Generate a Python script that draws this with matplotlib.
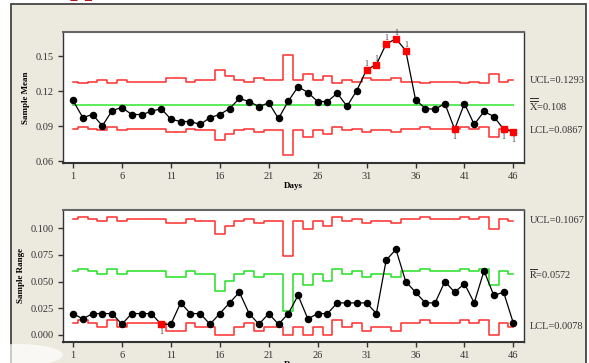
import numpy as np
import matplotlib.pyplot as plt
from matplotlib.patches import Rectangle, Ellipse
from matplotlib.transforms import blended_transform_factory

plt.rcParams['font.family'] = ['Liberation Serif', 'DejaVu Serif']
plt.rcParams['mathtext.fontset'] = 'stix'

# ******** data ********
days = np.arange(1, 47)

sampleMean = [0.1120, 0.0974, 0.1000, 0.0903, 0.1034, 0.1060, 0.1000, 0.1000, 0.1026, 0.1051,
              0.0960, 0.0940, 0.0940, 0.0915, 0.0974, 0.1000, 0.1051, 0.1137, 0.1111, 0.1068,
              0.1100, 0.0966, 0.1114, 0.1238, 0.1188, 0.1111, 0.1111, 0.1182, 0.1071, 0.1205,
              0.1384, 0.1427, 0.1604, 0.1647, 0.1547, 0.1128, 0.1051, 0.1045, 0.1094, 0.0874,
              0.1094, 0.0915, 0.1026, 0.0983, 0.0875, 0.0851]

meanUCL = [0.1281, 0.1271, 0.1281, 0.1293, 0.1271, 0.1293, 0.1281, 0.1281, 0.1281, 0.1281,
           0.1308, 0.1308, 0.1281, 0.1293, 0.1293, 0.1382, 0.1326, 0.1293, 0.1281, 0.1308,
           0.1293, 0.1293, 0.1506, 0.1293, 0.1350, 0.1293, 0.1326, 0.1271, 0.1293, 0.1281,
           0.1308, 0.1293, 0.1293, 0.1308, 0.1281, 0.1281, 0.1271, 0.1281, 0.1281, 0.1281,
           0.1271, 0.1281, 0.1271, 0.1350, 0.1281, 0.1293]

meanLCL = [0.0879, 0.0889, 0.0879, 0.0867, 0.0889, 0.0867, 0.0879, 0.0879, 0.0879, 0.0879,
           0.0852, 0.0852, 0.0879, 0.0867, 0.0867, 0.0778, 0.0834, 0.0867, 0.0879, 0.0852,
           0.0867, 0.0867, 0.0654, 0.0867, 0.0810, 0.0867, 0.0834, 0.0889, 0.0867, 0.0879,
           0.0852, 0.0867, 0.0867, 0.0852, 0.0879, 0.0879, 0.0889, 0.0879, 0.0879, 0.0879,
           0.0889, 0.0879, 0.0889, 0.0810, 0.0879, 0.0867]

meanCenter = 0.108

sampleRange = [0.020, 0.015, 0.020, 0.020, 0.020, 0.010, 0.020, 0.020, 0.020, 0.010,
               0.010, 0.030, 0.020, 0.020, 0.010, 0.020, 0.030, 0.040, 0.020, 0.010,
               0.020, 0.010, 0.020, 0.037, 0.015, 0.020, 0.020, 0.030, 0.030, 0.030,
               0.030, 0.020, 0.070, 0.080, 0.050, 0.040, 0.030, 0.030, 0.050, 0.040,
               0.048, 0.030, 0.060, 0.037, 0.040, 0.011]

rangeUCL = [0.1084, 0.1099, 0.1084, 0.1067, 0.1099, 0.1067, 0.1084, 0.1084, 0.1084, 0.1084,
            0.1045, 0.1045, 0.1084, 0.1067, 0.1067, 0.0944, 0.1020, 0.1067, 0.1084, 0.1045,
            0.1067, 0.1067, 0.0741, 0.1067, 0.0988, 0.1067, 0.1020, 0.1099, 0.1067, 0.1084,
            0.1045, 0.1067, 0.1067, 0.1045, 0.1084, 0.1084, 0.1099, 0.1084, 0.1084, 0.1084,
            0.1099, 0.1084, 0.1099, 0.0988, 0.1084, 0.1067]

rangeCenter = [0.0597, 0.0618, 0.0597, 0.0572, 0.0618, 0.0572, 0.0597, 0.0597, 0.0597, 0.0597,
               0.0543, 0.0543, 0.0597, 0.0572, 0.0572, 0.0414, 0.0509, 0.0572, 0.0597, 0.0543,
               0.0572, 0.0572, 0.0227, 0.0572, 0.0467, 0.0572, 0.0509, 0.0618, 0.0572, 0.0597,
               0.0543, 0.0572, 0.0572, 0.0543, 0.0597, 0.0597, 0.0618, 0.0597, 0.0597, 0.0597,
               0.0618, 0.0597, 0.0618, 0.0467, 0.0597, 0.0572]

rangeLCL = [0.0110, 0.0138, 0.0110, 0.0078, 0.0138, 0.0078, 0.0110, 0.0110, 0.0110, 0.0110,
            0.0041, 0.0041, 0.0110, 0.0078, 0.0078, 0.0, 0.0, 0.0078, 0.0110, 0.0041,
            0.0078, 0.0078, 0.0, 0.0078, 0.0, 0.0078, 0.0, 0.0138, 0.0078, 0.0110,
            0.0041, 0.0078, 0.0078, 0.0041, 0.0110, 0.0110, 0.0138, 0.0110, 0.0110, 0.0110,
            0.0138, 0.0110, 0.0138, 0.0, 0.0110, 0.0078]

meanTicks = [0.06, 0.09, 0.12, 0.15]
rangeTicks = [0.000, 0.025, 0.050, 0.075, 0.100]
dayTicks = [1, 6, 11, 16, 21, 26, 31, 36, 41, 46]

RED = '#FF2E2E'
FRAME = '#ECE9DF'


def controlPanel(ax, values, ucl, center, lcl, centerColor, yTicks, yFmt, ylim, ylabel, rightLabels):
    ax.step(days, ucl, where='mid', color=RED, lw=1.1)
    ax.step(days, lcl, where='mid', color=RED, lw=1.1)
    if np.ndim(center) == 0:
        ax.plot([days[0], days[-1]], [center, center], color=centerColor, lw=1.4)
    else:
        ax.step(days, center, where='mid', color=centerColor, lw=1.1)

    vals = np.array(values)
    hi = vals > np.array(ucl)
    lo = vals < np.array(lcl)
    bad = hi | lo
    ax.plot(days, vals, color='black', lw=0.9, zorder=3)
    ax.plot(days[~bad], vals[~bad], 'o', color='black', ms=4.4, zorder=4)
    ax.plot(days[bad], vals[bad], 's', color='#FF0000', ms=4.2, zorder=4)
    span = ylim[1] - ylim[0]
    for d, v, h in zip(days[bad], vals[bad], hi[bad]):
        off = 0.045 * span if h else -0.06 * span
        ax.text(d, v + off, '1', fontsize=5.5, ha='center', va='center', color='#333333')

    ax.set_xlim(-0.05, 47.12)
    ax.set_ylim(*ylim)
    ax.set_xticks(dayTicks)
    ax.set_yticks(yTicks)
    ax.set_yticklabels([yFmt.format(t) for t in yTicks])
    ax.tick_params(direction='out', length=3.5, width=1, colors='#333333', labelsize=7.5, pad=3)
    ax.set_xlabel('Days', fontsize=6.5, fontweight='bold', labelpad=1)
    ax.set_ylabel(ylabel, fontsize=6.5, fontweight='bold', labelpad=4)
    for s in ax.spines.values():
        s.set_color('#333333')
        s.set_linewidth(1.0)
    ax.spines['top'].set_color('#666666')
    ax.spines['top'].set_linewidth(1.5)
    ax.spines['bottom'].set_linewidth(1.5)

    trans = blended_transform_factory(ax.transAxes, ax.transData)
    for yv, txt in rightLabels:
        ax.text(1.011, yv, txt, transform=trans, fontsize=7.5, va='center', ha='left', color='#333333')


fig = plt.figure(figsize=(5.89, 3.63), dpi=100)
fig.patch.set_facecolor('white')

# beige panel behind the charts
fig.patches.append(Rectangle((11 / 589, -0.1), (586 - 11) / 589, 1.1 - 4 / 363,
                             transform=fig.transFigure, facecolor=FRAME, edgecolor='#444444',
                             lw=1.3, zorder=-10))
fig.text(0.118, 1.013, 'pp', color='#B01818', fontsize=20, fontweight='bold', va='baseline')

axTop = fig.add_axes([0.1065, 0.5518, 0.7837, 0.3592])
axBot = fig.add_axes([0.1065, 0.0587, 0.7837, 0.3628])

controlPanel(axTop, sampleMean, meanUCL, meanCenter, meanLCL, '#5CEB5C', meanTicks, '{:.2f}',
             (0.0588, 0.1703), 'Sample Mean',
             [(meanUCL[-1], 'UCL=0.1293'),
              (meanCenter, r'$\overline{\overline{\mathrm{X}}}$=0.108'),
              (meanLCL[-1], 'LCL=0.0867')])
controlPanel(axBot, sampleRange, rangeUCL, rangeCenter, rangeLCL, '#22E022', rangeTicks, '{:.3f}',
             (-0.0063, 0.1169), 'Sample Range',
             [(rangeUCL[-1], 'UCL=0.1067'),
              (rangeCenter[-1], r'$\overline{\mathrm{R}}$=0.0572'),
              (rangeLCL[-1], 'LCL=0.0078')])

# soft glare in the lower left corner
fig.patches.append(Ellipse((18 / 589, 8 / 363), 90 / 589, 22 / 363, transform=fig.transFigure,
                           facecolor='white', edgecolor='none', alpha=0.7, zorder=5))

fig.savefig('out.png', dpi=100)
